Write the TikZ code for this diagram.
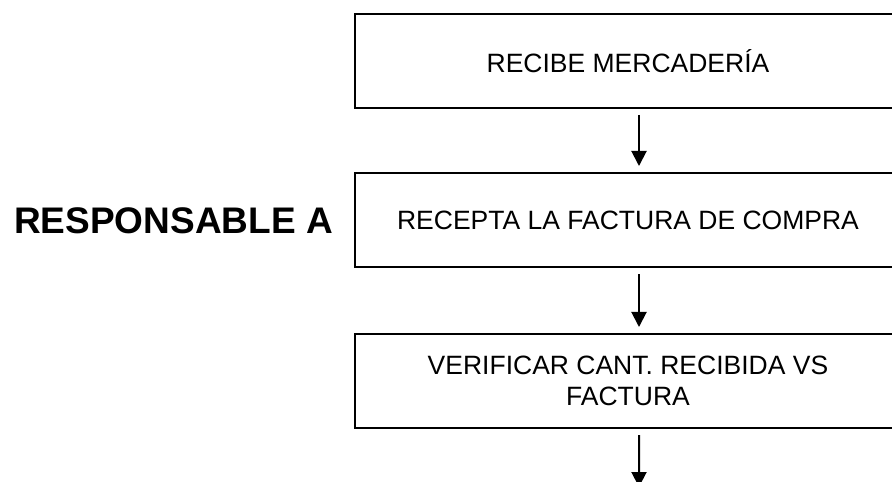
\documentclass[tikz,border=0pt]{standalone}
\usepackage{fontspec}
\setmainfont{Liberation Sans}
\usetikzlibrary{arrows.meta}
\begin{document}
\begin{tikzpicture}[x=1bp,y=-1bp,
  stepbox/.style={draw=black, line width=2bp, minimum width=546bp, minimum height=94bp,
    inner sep=0pt, align=center, font=\fontsize{26.5bp}{30.5bp}\selectfont},
  flowarrow/.style={line width=2bp, -{Triangle[width=15bp,length=15bp]}, shorten <=6bp, shorten >=6bp},
  lbl/.style={inner sep=0pt, font=\fontsize{37bp}{42bp}\selectfont\bfseries}
]
\useasboundingbox (0,0) rectangle (892,482);
\clip (0,0) rectangle (892,482);
\node[stepbox] (b1) at (628,61) {RECIBE MERCADERÍA};
\node[stepbox] (b2) at (628,220) {RECEPTA LA FACTURA DE COMPRA};
\node[stepbox] (b3) at (628,381) {VERIFICAR CANT. RECIBIDA VS\\FACTURA};
\coordinate (end) at (639,493);
\node[lbl, anchor=west] (resp) at (14,220.5) {RESPONSABLE A};
\draw[flowarrow] ([xshift=11bp]b1.south) -- ([xshift=11bp]b2.north);
\draw[flowarrow] ([xshift=11bp]b2.south) -- ([xshift=11bp]b3.north);
\draw[flowarrow] ([xshift=11bp]b3.south) -- (end);
\end{tikzpicture}
\end{document}
